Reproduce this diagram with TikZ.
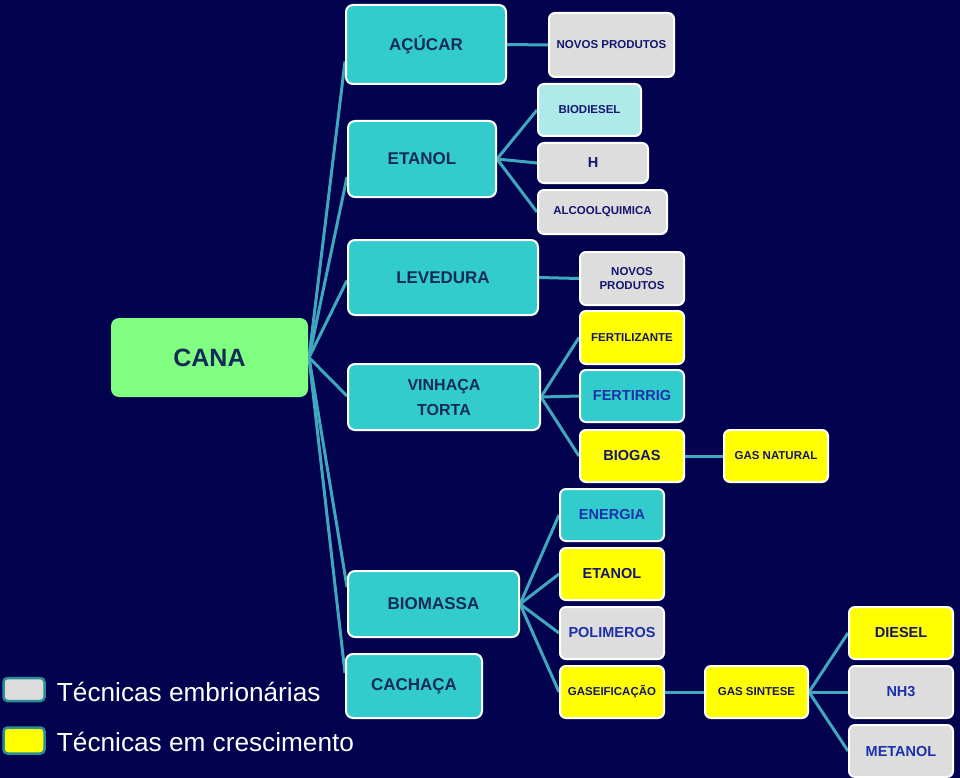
\documentclass[tikz,border=0pt]{standalone}
\usepackage{fontspec}
\setmainfont{Liberation Sans}
\usetikzlibrary{positioning}

\definecolor{navybg}{RGB}{2,2,78}
\definecolor{linkcol}{RGB}{62,168,190}
\definecolor{cyanbox}{RGB}{51,204,204}
\definecolor{greenbox}{RGB}{128,255,128}
\definecolor{greybox}{RGB}{221,221,221}
\definecolor{yellowbox}{RGB}{255,255,0}
\definecolor{paleBox}{RGB}{174,234,234}
\definecolor{maintext}{RGB}{20,42,90}
\definecolor{leaftext}{RGB}{22,22,110}
\definecolor{bluetext}{RGB}{28,48,170}
\definecolor{legedge}{RGB}{42,140,148}

\pgfdeclarelayer{back}
\pgfdeclarelayer{links}
\pgfsetlayers{back,links,main}

\tikzset{
  box/.style={draw=white, line width=2pt, rounded corners=7pt, inner sep=0pt,
    align=center, text=maintext},
  mainbox/.style={box, fill=cyanbox, font=\bfseries\fontsize{17}{24}\selectfont},
  leaf/.style={box, rounded corners=6pt, minimum width=104pt, minimum height=52pt,
    text=leaftext, font=\bfseries\fontsize{11.5}{14}\selectfont},
  bigleaf/.style={leaf, font=\bfseries\fontsize{14.5}{17}\selectfont},
  link/.style={linkcol, line width=3pt},
  legbox/.style={draw=legedge, line width=2.5pt, rounded corners=4pt,
    minimum width=41pt},
  legtext/.style={text=white, inner sep=0pt, font=\fontsize{26.2}{30}\selectfont}
}

\begin{document}
\begin{tikzpicture}[x=1pt, y=-1pt]
  \useasboundingbox (0,0) rectangle (960,778);
  \begin{pgfonlayer}{back}
    \fill[navybg] (0,0) rectangle (960,778);
  \end{pgfonlayer}

  % root and first level
  \node[box, draw=none, fill=greenbox, rounded corners=8pt, minimum width=197pt, minimum height=79pt,
    font=\bfseries\fontsize{25}{30}\selectfont] (cana) at (209.5,357.5) {CANA};
  \node[mainbox, minimum width=160pt, minimum height=79pt] (acucar) at (426,44.5) {AÇÚCAR};
  \node[mainbox, minimum width=148pt, minimum height=76pt] (etanol) at (422,159) {ETANOL};
  \node[mainbox, minimum width=190pt, minimum height=75pt] (levedura) at (443,277.5) {LEVEDURA};
  \node[mainbox, minimum width=192pt, minimum height=66pt, font=\bfseries\fontsize{16}{25}\selectfont]
    (vinhaca) at (444,397) {VINHAÇA\\TORTA};
  \node[mainbox, minimum width=171pt, minimum height=66pt] (biomassa) at (433.5,604) {BIOMASSA};
  \node[mainbox, minimum width=136pt, minimum height=64pt] (cachaca) at (414,686) {CACHAÇA};

  % second level
  \node[leaf, fill=greybox, minimum width=125pt, minimum height=64pt] (novosA) at (611.5,45) {NOVOS PRODUTOS};
  \node[leaf, fill=paleBox, minimum width=103pt] (biodiesel) at (589.5,110) {BIODIESEL};
  \node[leaf, fill=greybox, minimum width=110pt, minimum height=40pt,
    font=\bfseries\fontsize{14.5}{17}\selectfont] (hidro) at (593,163) {H};
  \node[leaf, fill=greybox, minimum width=129pt, minimum height=44pt] (alcool) at (602.5,212) {ALCOOLQUIMICA};
  \node[leaf, fill=greybox, minimum height=53pt, font=\bfseries\fontsize{11.5}{13.5}\selectfont]
    (novosB) at (632,278.5) {NOVOS\\PRODUTOS};
  \node[leaf, fill=yellowbox, minimum height=53pt] (fertil) at (632,337.5) {FERTILIZANTE};
  \node[bigleaf, fill=cyanbox, text=bluetext] (fertirrig) at (632,396) {FERTIRRIG};
  \node[bigleaf, fill=yellowbox] (biogas) at (632,456) {BIOGAS};
  \node[leaf, fill=yellowbox] (gasnat) at (776,456) {GAS NATURAL};
  \node[bigleaf, fill=cyanbox, text=bluetext] (energia) at (612,515) {ENERGIA};
  \node[bigleaf, fill=yellowbox] (etanolB) at (612,574) {ETANOL};
  \node[bigleaf, fill=greybox, text=bluetext] (polimeros) at (612,633) {POLIMEROS};
  \node[leaf, fill=yellowbox] (gaseif) at (612,692) {GASEIFICAÇÃO};
  \node[leaf, fill=yellowbox, minimum width=103pt] (gassint) at (756.5,692) {GAS SINTESE};
  \node[bigleaf, fill=yellowbox] (diesel) at (901,633) {DIESEL};
  \node[bigleaf, fill=greybox, text=bluetext] (nh3) at (901,692) {NH3};
  \node[bigleaf, fill=greybox, text=bluetext] (metanol) at (901,751) {METANOL};

  % connectors
  \begin{pgfonlayer}{links}
    \foreach \n/\dy in {acucar/-17, etanol/-18, levedura/-3, vinhaca/1, biomassa/17, cachaca/13}
      \draw[link] (cana.east) -- ([yshift=\dy pt]\n.west);
    \draw[link] (acucar.east) -- (novosA.west);
    \foreach \n in {biodiesel, hidro, alcool}
      \draw[link] (etanol.east) -- (\n.west);
    \draw[link] (levedura.east) -- (novosB.west);
    \foreach \n in {fertil, fertirrig, biogas}
      \draw[link] (vinhaca.east) -- (\n.west);
    \draw[link] (biogas.east) -- (gasnat.west);
    \foreach \n in {energia, etanolB, polimeros, gaseif}
      \draw[link] (biomassa.east) -- (\n.west);
    \draw[link] (gaseif.east) -- (gassint.west);
    \foreach \n in {diesel, nh3, metanol}
      \draw[link] (gassint.east) -- (\n.west);
  \end{pgfonlayer}

  % legend
  \node[legbox, fill=greybox, minimum height=23pt] (legA) at (24,689.5) {};
  \node[legtext, right=11pt of legA, yshift=-2.5pt] (legAtext) {Técnicas embrionárias};
  \node[legbox, fill=yellowbox, minimum height=26pt] (legB) at (24,740.5) {};
  \node[legtext, right=11pt of legB, yshift=-1.5pt] (legBtext) {Técnicas em crescimento};
\end{tikzpicture}
\end{document}
